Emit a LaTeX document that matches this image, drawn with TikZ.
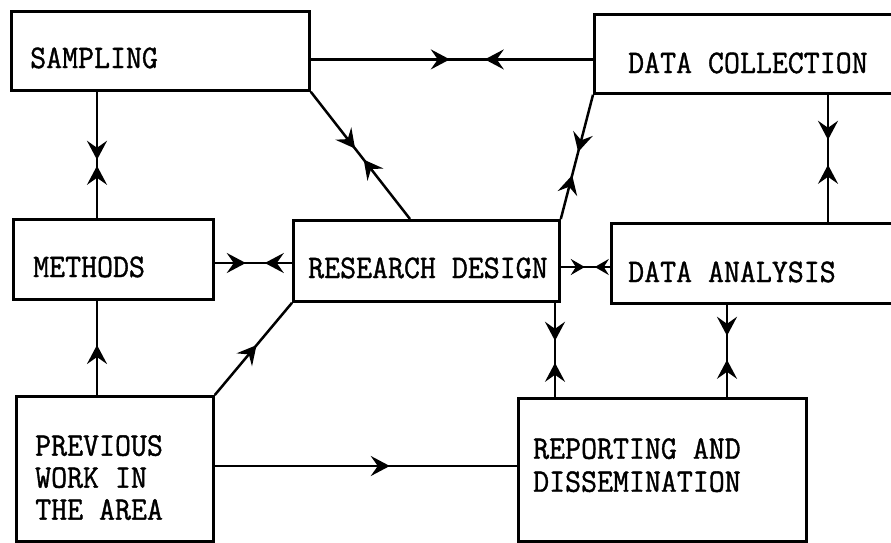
\documentclass[tikz,border=0pt]{standalone}
\usepackage{fontspec}
\newfontfamily\twfont{Latin Modern Mono}[FakeBold=1.2]
\usetikzlibrary{arrows.meta,decorations.markings}
\newcommand\tw[1]{\scalebox{1}[1.06]{#1}}
\tikzset{
  box/.style={draw, line width=2.8pt, inner sep=0pt, anchor=north west},
  lbl/.style={inner sep=0pt, font=\fontsize{31}{33}\selectfont\twfont},
  conn/.style={line width=2.5pt},
  fa/.style={postaction={decorate,decoration={markings,mark=at position #1 with {\arrow{Stealth[length=19pt,width=20pt,inset=7pt]}}}}},
  ba/.style={postaction={decorate,decoration={markings,mark=at position #1 with {\arrowreversed{Stealth[length=19pt,width=20pt,inset=7pt]}}}}},
  fas/.style={postaction={decorate,decoration={markings,mark=at position #1 with {\arrow{Stealth[length=14pt,width=16pt,inset=5pt]}}}}},
  bas/.style={postaction={decorate,decoration={markings,mark=at position #1 with {\arrowreversed{Stealth[length=14pt,width=16pt,inset=5pt]}}}}},
}
\begin{document}
\begin{tikzpicture}[x=1pt,y=-1pt]
\useasboundingbox (0,0) rectangle (891,542);
\clip (0,0) rectangle (891,542);
% boxes
\node[box, minimum width=298pt, minimum height=79pt] (samp) at (10,10) {};
\node[box, minimum width=330pt, minimum height=79pt] (dcol) at (593,13) {};
\node[box, minimum width=200pt, minimum height=80pt] (meth) at (12,218) {};
\node[box, minimum width=266pt, minimum height=81pt] (res) at (292,219) {};
\node[box, minimum width=320pt, minimum height=80pt] (dan) at (610,222) {};
\node[box, minimum width=197pt, minimum height=145pt] (prev) at (15,395) {};
\node[box, minimum width=288pt, minimum height=143pt] (rep) at (517,397) {};
% labels
\node[lbl, anchor=base west] (tsamp) at (30,68) {\tw{SAMPLING}};
\node[lbl, anchor=base west] (tdcol) at (628,73) {\tw{DATA COLLECTION}};
\node[lbl, anchor=base west] (tmeth) at (33,277) {\tw{METHODS}};
\node[lbl, anchor=base west] (tres) at (308,278) {\tw{RESEARCH DESIGN}};
\node[lbl, anchor=base west] (tdan) at (628,282) {\tw{DATA ANALYSIS}};
\node[lbl, anchor=north west, align=left] (trep) at (533,438) {\tw{REPORTING AND}\\\tw{DISSEMINATION}};
\node[lbl, anchor=north west, align=left, font=\fontsize{31}{32}\selectfont\twfont] (tprev) at (35,435) {\tw{PREVIOUS}\\\tw{WORK IN}\\\tw{THE AREA}};
% connectors
\draw[conn, fa=139pt, ba=174pt] ([shift={(0,8.5)}]samp.east) -- ([shift={(0,8.5)}]samp.east -| dcol.west);
\draw[conn, fa=68pt, ba=74pt] (samp.south -| 97,0) -- (meth.north -| 97,0);
\draw[conn, fa=50pt] (prev.north -| 97,0) -- (meth.south -| 97,0);
\draw[conn, fa=31pt, ba=50pt] (meth.east |- 0,263) -- (res.west |- 0,263);
\draw[conn, fa=72pt, ba=86pt] (samp.south east) -- (res.north -| 410,0);
\draw[conn, fa=59pt, ba=83pt] (dcol.south west) -- (res.north east);
\draw[conn, fa=45pt, ba=70pt] (dcol.south -| 828,0) -- (dan.north -| 828,0);
\draw[conn, fas=24pt, bas=34pt] (res.east |- 0,267) -- (dan.west |- 0,267);
\draw[conn, fa=38pt, ba=60pt] (res.south -| 555,0) -- (rep.north -| 555,0);
\draw[conn, fa=31pt, ba=55pt] (dan.south -| 727,0) -- (rep.north -| 727,0);
\draw[conn, fa=65pt] (prev.north east) -- (res.south west);
\draw[conn, fa=175pt] (prev.east |- 0,466) -- (rep.west |- 0,466);
\end{tikzpicture}
\end{document}
